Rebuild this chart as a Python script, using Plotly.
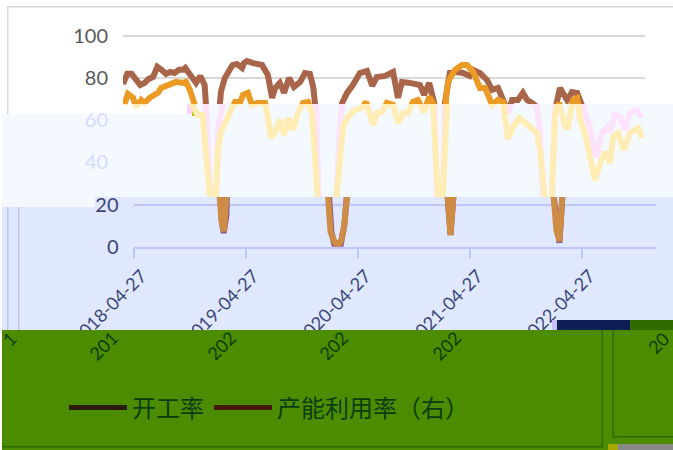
import pandas as pd
import plotly.graph_objects as go

W, H = 673, 450
START = pd.Timestamp("2018-04-27")

tick_dates = ["2018-04-27", "2019-04-27", "2020-04-27", "2021-04-27", "2022-04-27"]
names = ["开工率", "产能利用率（右）"]
band_fragments = ["1", "201", "202", "202", "202", "20"]

util_weeks = [0,2,4,6,8,10,12,14,16,18,20,22,24,26,28,29,32,34,36,38,38.5,39.6,41,42,43.3,44.2,45.6,47.5,49.8,51,53,55.4,56.3,57.7,60.5,64.7,67.5,68.4,69.4,70.8,73,75,77.3,79.6,82.4,84.7,87,88.5,89.9,90.8,92.2,93.6,96.4,98.2,99.6,101,102,104.3,107,110.3,113.6,116,118.2,122,125.7,128,129.9,133.6,138.3,140.1,142.5,144.8,146.2,147.6,149,149.9,151.3,152.2,155.5,158.3,161.5,163,166.2,169.5,171.8,174.6,177,179.2,181.1,183.9,186.2,188.1,190.4,192.7,194,195.5,198.3,199.7,201.1,203.4,206.7,209,211.4,213.7,215,217.4,220.2,223,225.3,226.7,229,231.4,233.7,236,239.3,241.6]
util_vals = [77.1,81.9,81.9,79,76.6,77.6,79.5,80.4,85.2,83.8,81.9,82.8,82.3,83.8,83.8,84.7,80.9,77.6,80.9,76.6,68.1,36.4,12.7,6.5,15,55.3,73.3,80,84.7,86.1,86.6,84.7,87,88,87,86.1,81.4,76.6,70.5,75.2,77.6,72.9,80,75.7,78,82.3,81.9,75.7,68.1,26.9,7,0.8,0.8,10.3,26.9,57.7,68.1,72.9,76.6,82.3,83.3,76.2,80.4,80.9,82.8,70.5,78,77.6,76.6,71.9,77.6,68.1,24.5,5.5,24.5,68.1,80.4,82.3,82.8,82.3,80.9,83.8,82.3,79,74.3,75.2,69.5,63.4,69.5,69.5,72.9,69.5,68.1,66.2,55.3,25.5,1.8,24.5,64.8,75.2,69.5,73.3,72.9,68.6,63.4,56.7,42.5,53.9,56.7,54.4,62.4,61.5,55.3,63.4,64.8,61]

run_weeks = [0.5,2.3,4.7,6,8.4,9.8,13,16.3,17.7,21,24.7,27.9,29.3,31.2,32.6,34.9,37.2,38.6,40,41,42.1,42.8,43.3,44.2,45.6,47.5,50.3,52.1,54.5,55.9,58.2,60,62.4,66.1,67.5,68.9,70.8,73,75,76.8,79.1,81.5,83.8,86.1,88,89.4,90.3,91.7,93.1,95,96.8,98.2,99.6,101,102.4,104.7,108,111.3,113.1,116.4,118.2,120.6,122.9,125.7,128,130.4,132.7,135,137.3,140.1,142.5,144.3,146.2,147.6,149,150.4,151.3,153.2,154.6,157.8,160.1,163,166.2,168.5,171.8,174.6,177,179.2,181.6,184.4,188.1,192.7,194.1,195.5,196.9,198.3,199.7,200.2,201.1,203,205.8,207.2,209.5,211.4,212.8,215,217.4,219.7,222.1,224.4,226.7,228.1,230.4,233.2,236,239.8,241.6]
run_vals = [67.2,72.4,70.5,66.2,69.5,68.1,71,72.9,75.2,76.6,78.1,77.6,78.1,74.3,66.2,62.4,62.4,44.4,25.5,11.7,7.4,15,25.5,45.8,54.4,58.6,63.8,68.6,68.6,71.9,72.9,67.2,68.1,68.1,61.5,51.5,54.4,60.1,53,61,55.3,63.4,68.1,68.6,63.4,41.1,25.5,7,3.2,0.3,3.2,10.3,25.5,47.3,56.7,61.5,64.8,65.7,68.6,57.7,63.4,63.8,68.1,67.2,58.6,63.4,63.4,68.6,69.5,63.8,71,68.1,25.5,5.5,25.5,71,78.1,81.4,83.8,86.1,86.1,82.8,75.2,75.2,67.2,69.5,68.6,51,56.7,61,57.7,53.9,45.8,25.5,7.9,2.7,25.5,45.8,63.4,68.1,56.7,56.7,69.5,70.5,60.1,53.9,41.1,31.6,39.7,44.9,39.7,52,53.9,45.8,53.9,56.3,51.5]


def dates(weeks):
    return [START + pd.Timedelta(days=round(w * 7)) for w in weeks]


util_x, run_x = dates(util_weeks), dates(run_weeks)
x_end = START + pd.Timedelta(days=1701)
xr = [START, x_end]

PX0, PX1 = 123, 645
SHIFT = 10.5


def xd(a, b):
    return [a / W, b / W]


def yd(top, bottom):
    return [1 - bottom / H, 1 - top / H]


fig = go.Figure()

panels = [
    ("", "", "#a8654a", "#eb9a24"),
    ("2", "2", "#fde2fb", "#ffedb5"),
    ("3", "3", "#8c5a8c", "#cf8c45"),
]
for xa, ya, c_util, c_run in panels:
    fig.add_trace(go.Scatter(x=util_x, y=util_vals, mode="lines", xaxis="x" + xa, yaxis="y" + ya,
                             line=dict(color=c_util, width=6), showlegend=False, hoverinfo="skip"))
    fig.add_trace(go.Scatter(x=run_x, y=run_vals, mode="lines", xaxis="x" + xa, yaxis="y" + ya,
                             line=dict(color=c_run, width=6), showlegend=False, hoverinfo="skip"))

for nm, col in zip(names, ["#2d1a08", "#461a04"]):
    fig.add_trace(go.Scatter(x=[None], y=[None], mode="lines", name=nm, xaxis="x3", yaxis="y3",
                             line=dict(color=col, width=5)))

FONT = "Lato, 'Open Sans', sans-serif"
GRID = "#d9d9d9"
BLUE = "#bcc6f8"


def R(x0, y0, x1, y1, color, layer="below", opacity=1):
    return dict(type="rect", xref="paper", yref="paper", x0=x0 / W, x1=x1 / W, y0=1 - y1 / H, y1=1 - y0 / H,
                fillcolor=color, line=dict(width=0), layer=layer, opacity=opacity)


PALE, LBLUE, GREEN, DGREEN = "#f3f9ff", "#dfe8ff", "#4c8c00", "#2f6b00"
shapes = [
    R(2, 197, W, 330, LBLUE),
    R(2, 114, 95, 207, PALE),
    R(95, 114, 190, 197, PALE),
    R(187, 104, W, 197, PALE),
    R(8, 6, W, 7.5, GRID),
    R(7, 6, 8.5, 114, GRID),
    R(7, 207, 8.5, 330, BLUE),
    R(18, 207, 19.5, 330, BLUE),
    R(187, 104, 193, 114, "#ffd0fb"),
    R(192, 104, 196, 116, "#b8c400"),
    # the green band hides the lower end of the axis labels
    R(2, 330, W, 450, GREEN, "above"),
    R(2, 446, 603, 447.5, DGREEN, "above"),
    R(601.5, 330, 603, 447.5, DGREEN, "above"),
    R(612.5, 330, 614, 437.5, DGREEN, "above"),
    R(612.5, 436, W, 437.5, DGREEN, "above"),
    R(618, 444, W, 450, "#888888", "above"),
    R(608, 444, 618, 450, "#a8a800", "above"),
    R(557, 320, 630, 330, "#0d1f55", "above"),
    R(630, 320, W, 330, "#2f6b00", "above"),
    R(552, 320, 557, 330, "#c8c0f8", "above"),
]

common_x = dict(type="date", range=xr, showgrid=False, zeroline=False, showticklabels=False)
common_y = dict(zeroline=False, showline=False, ticks="", automargin=False, ticklabelstandoff=14)

frag_pos = [(9, 339), (103, 346), (221, 346), (333, 346), (446, 346), (658, 343)]
frag_font = dict(size=18, color="#0b3d10")
annotations = [
    dict(text=t, xref="paper", yref="paper", x=p[0] / W, y=1 - p[1] / H, xanchor="center", yanchor="middle",
         showarrow=False, textangle=-45, font=frag_font)
    for t, p in zip(band_fragments, frag_pos)
]

fig.update_layout(
    width=W, height=H, margin=dict(l=0, r=0, t=0, b=0, autoexpand=False),
    paper_bgcolor="white", plot_bgcolor="rgba(0,0,0,0)",
    shapes=shapes,
    font=dict(family=FONT),
    xaxis=dict(domain=xd(PX0, PX1), anchor="y", **common_x),
    yaxis=dict(domain=yd(30, 104), range=[67.6, 102.7], tickvals=[100, 80], gridcolor=GRID, gridwidth=1.5,
               tickfont=dict(size=20, color="#595959"), **common_y),
    xaxis2=dict(domain=xd(PX0, PX1), anchor="y2", **common_x),
    yaxis2=dict(domain=yd(104, 197), range=[23.6, 67.6], tickvals=[60, 40], anchor="x2", gridcolor=PALE,
                tickfont=dict(size=20, color="#d4dcff"), **common_y),
    xaxis3=dict(domain=xd(PX0 + SHIFT, PX1 + SHIFT), anchor="y3", type="date", range=xr, showgrid=False,
                zeroline=False, showline=True, linecolor=BLUE, linewidth=1.5, ticks="outside", ticklen=10,
                tickcolor=BLUE, tickwidth=1.5, tickmode="array", tickvals=tick_dates, ticktext=tick_dates,
                tickangle=-45, ticklabelshift=8, tickfont=dict(size=18, color="#3b4578")),
    yaxis3=dict(domain=yd(197, 246.7), range=[0, 23.6], tickvals=[20, 0], anchor="x3", gridcolor=BLUE, gridwidth=1.5,
                tickfont=dict(size=20, color="#3b4578"), **common_y),
    legend=dict(orientation="h", x=64 / W, y=1 - 408 / H, xanchor="left", yanchor="middle", itemwidth=58,
                bgcolor="rgba(0,0,0,0)", font=dict(family="'Noto Sans CJK SC'", size=24, color="#0b3d10"),
                itemclick=False, itemdoubleclick=False),
    annotations=annotations,
)

fig.write_html("out.html", config=dict(displayModeBar=False),
               post_script="document.body.style.margin='0';document.body.style.overflow='hidden';")
